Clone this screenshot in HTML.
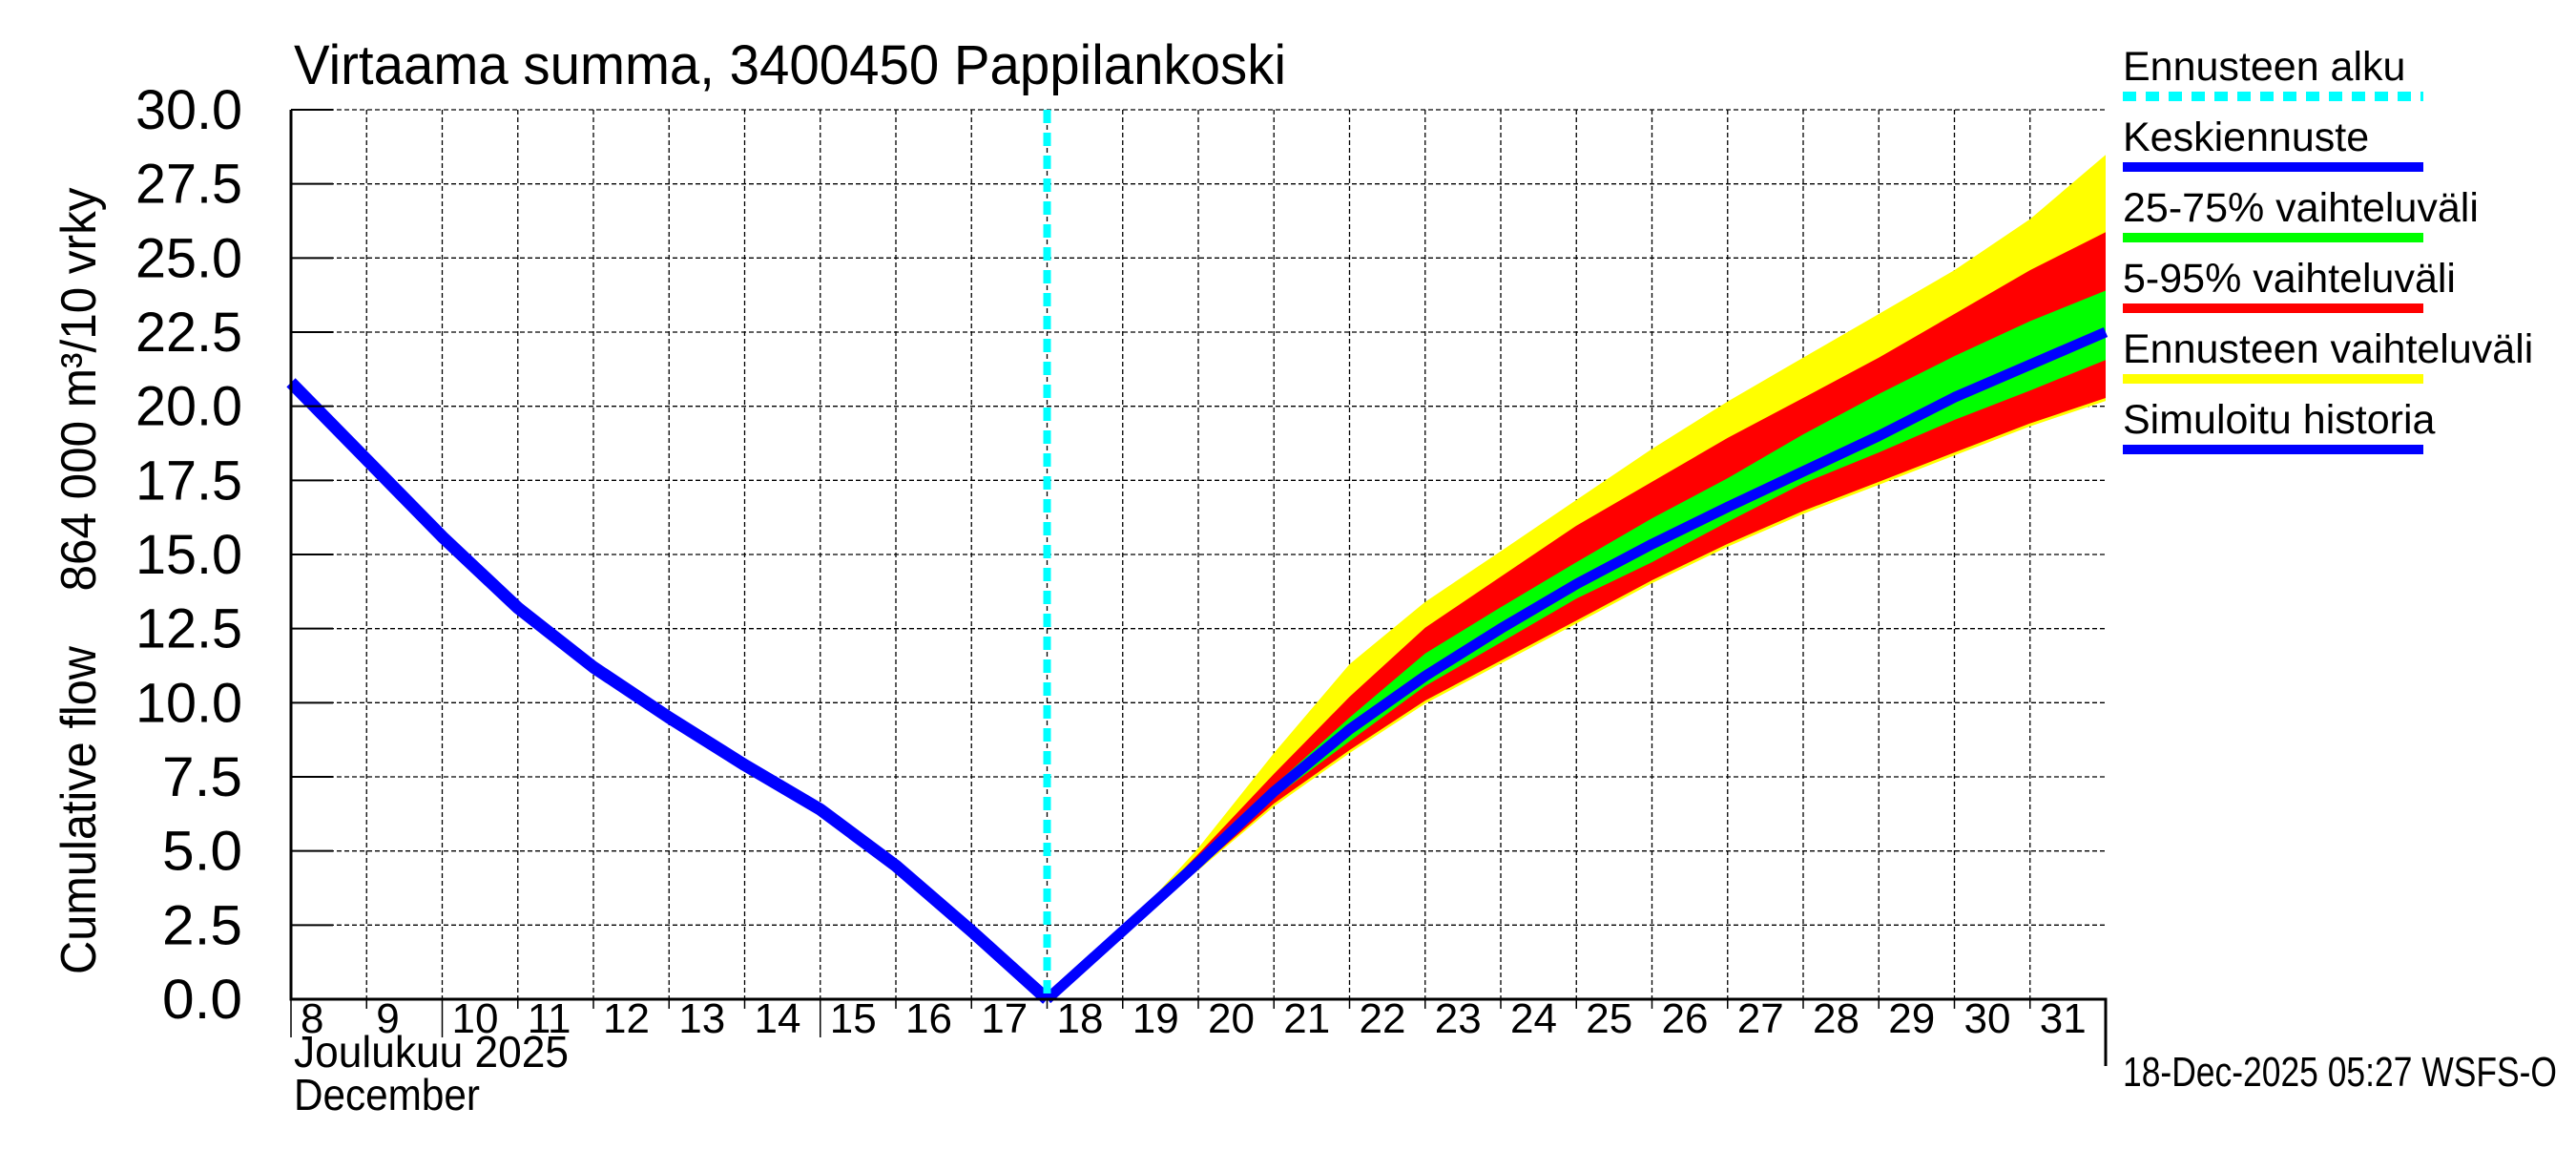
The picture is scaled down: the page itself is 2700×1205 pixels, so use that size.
<!DOCTYPE html>
<html><head><meta charset="utf-8"><style>
html,body{margin:0;padding:0;background:#fff;}
svg text{font-family:"Liberation Sans",sans-serif;fill:#000;}
</style></head><body>
<svg id="chart" width="2700" height="1200" viewBox="0 0 2700 1200" xmlns="http://www.w3.org/2000/svg">
<rect width="2700" height="1200" fill="#fff"/>
<text x="308" y="88" font-size="58" textLength="1040" lengthAdjust="spacingAndGlyphs">Virtaama summa, 3400450 Pappilankoski</text>
<text transform="translate(100,849) rotate(-90)" text-anchor="middle" font-size="52" textLength="344" lengthAdjust="spacingAndGlyphs">Cumulative flow</text>
<text transform="translate(100,408) rotate(-90)" text-anchor="middle" font-size="52" textLength="423" lengthAdjust="spacingAndGlyphs">864 000 m³/10 vrky</text>
<g id="grid"></g><g id="bands"></g><g id="lines"></g><g id="axes"></g>
<text x="308" y="1118" font-size="46" textLength="288" lengthAdjust="spacingAndGlyphs">Joulukuu  2025</text>
<text x="308" y="1163" font-size="46" textLength="195" lengthAdjust="spacingAndGlyphs">December</text>
<text x="2225" y="1138" font-size="44" textLength="455" lengthAdjust="spacingAndGlyphs">18-Dec-2025 05:27 WSFS-O</text>
<g id="legend"></g>
</svg>
<script>
const yTicks=[0,2.5,5,7.5,10,12.5,15,17.5,20,22.5,25,27.5,30];
const dayLabels=[8,9,10,11,12,13,14,15,16,17,18,19,20,21,22,23,24,25,26,27,28,29,30,31];
const histDays=[8,9,10,11,12,13,14,15,16,17,18];
const histValues=[20.8,18.2,15.6,13.2,11.2,9.5,7.9,6.4,4.5,2.3,0];
const fcDays=[18,19,20,21,22,23,24,25,26,27,28,29,30,31,32];
const median=[0,2.3,4.6,7.0,9.1,10.9,12.5,14.0,15.35,16.6,17.8,19.0,20.3,21.4,22.5];
const yellowTop=[0,2.3,5.1,8.3,11.3,13.4,15.11,16.84,18.56,20.16,21.64,23.11,24.59,26.31,28.48];
const redTop=[0,2.3,4.9,7.6,10.2,12.53,14.25,15.97,17.45,18.93,20.28,21.64,23.11,24.59,25.87];
const greenTop=[0,2.3,4.7,7.2,9.5,11.66,13.22,14.74,16.22,17.57,19.05,20.41,21.69,22.87,23.9];
const greenBottom=[0,2.3,4.5,6.8,8.7,10.56,12.03,13.51,14.74,16.10,17.40,18.44,19.54,20.53,21.56];
const redBottom=[0,2.3,4.4,6.6,8.4,10.07,11.42,12.77,14.13,15.36,16.47,17.45,18.44,19.42,20.28];
const yellowBottom=[0,2.3,4.35,6.5,8.3,9.97,11.32,12.67,14.03,15.26,16.37,17.35,18.34,19.32,20.18];
const forecastStart=18;

const L=305,R=2207,T=115,B=1047,D0=8,D1=32;
const X=d=>L+(d-D0)*(R-L)/(D1-D0);
const Y=v=>B-v*(B-T)/30;
const NS="http://www.w3.org/2000/svg";
function mk(tag,attrs,parent){const e=document.createElementNS(NS,tag);for(const k in attrs)e.setAttribute(k,attrs[k]);parent.appendChild(e);return e;}
const grid=document.getElementById('grid'),bands=document.getElementById('bands'),lines=document.getElementById('lines'),axes=document.getElementById('axes'),legend=document.getElementById('legend');

yTicks.forEach(v=>{
  const g=mk('line',{x1:L,x2:R,y1:Y(v),y2:Y(v),stroke:'#000','stroke-width':1.3,'stroke-dasharray':'5,3'},grid);
  
  
  const t=mk('line',{x1:L,x2:L+44,y1:Y(v),y2:Y(v),stroke:'#000','stroke-width':2},axes);
  
  
  const s=v.toFixed(1);
  const lb=mk('text',{x:254,y:Y(v)+20,'text-anchor':'end','font-size':58,textLength:s.length===4?112:84,lengthAdjust:'spacingAndGlyphs'},axes);
  lb.textContent=s;
  
  
});
dayLabels.forEach(d=>{
  const g=mk('line',{x1:X(d),x2:X(d),y1:T,y2:B,stroke:'#000','stroke-width':1.3,'stroke-dasharray':'5,3'},grid);
  
  
  const t=mk('line',{x1:X(d),x2:X(d),y1:B,y2:B+(d===8||d===10||d===15?40:10),stroke:'#000','stroke-width':1.5},axes);
  
  
  const lb=mk('text',{x:X(d)+10,y:1082,'font-size':44},axes);
  lb.textContent=d;
  
  
});
function band(top,bot,color,name){
  let p='';
  fcDays.forEach((d,i)=>{p+=(i?'L':'M')+X(d)+','+Y(top[i]);});
  for(let i=fcDays.length-1;i>=0;i--)p+='L'+X(fcDays[i])+','+Y(bot[i]);
  const e=mk('path',{d:p+'Z',fill:color},bands);
  
  
}
band(yellowTop,yellowBottom,'#ffff00','full-range-band');
band(redTop,redBottom,'#ff0000','p5-95-band');
band(greenTop,greenBottom,'#00ff00','p25-75-band');
function line(xs,vs,w,name){
  const pts=xs.map((d,i)=>X(d)+','+Y(vs[i])).join(' ');
  const e=mk('polyline',{points:pts,fill:'none',stroke:'#0000ff','stroke-width':w,'stroke-linejoin':'round'},lines);
  
  
}
line(histDays,histValues,13,'simulated-history-line');
line(fcDays,median,11,'median-forecast-line');
const fs=mk('line',{x1:X(forecastStart),x2:X(forecastStart),y1:T,y2:B,stroke:'#00ffff','stroke-width':8,'stroke-dasharray':'14,10'},lines);


const ax=mk('path',{d:`M${L},${T}V${B}H${R}V1117`,fill:'none',stroke:'#000','stroke-width':3},axes);



const legendLabels=['Ennusteen alku','Keskiennuste','25-75% vaihteluväli','5-95% vaihteluväli','Ennusteen vaihteluväli','Simuloitu historia'];
const legendColors=['#00ffff','#0000ff','#00ff00','#ff0000','#ffff00','#0000ff'];
legendLabels.forEach((s,i)=>{
  const y=84+i*74;
  const t=mk('text',{x:2225,y:y,'font-size':43},legend);
  t.textContent=s;
  
  
  const a={x1:2225,x2:2540,y1:y+17,y2:y+17,stroke:legendColors[i],'stroke-width':10};
  if(i===0)a['stroke-dasharray']='14,10';
  const l=mk('line',a,legend);
  
  
});
</script>
</body></html>
